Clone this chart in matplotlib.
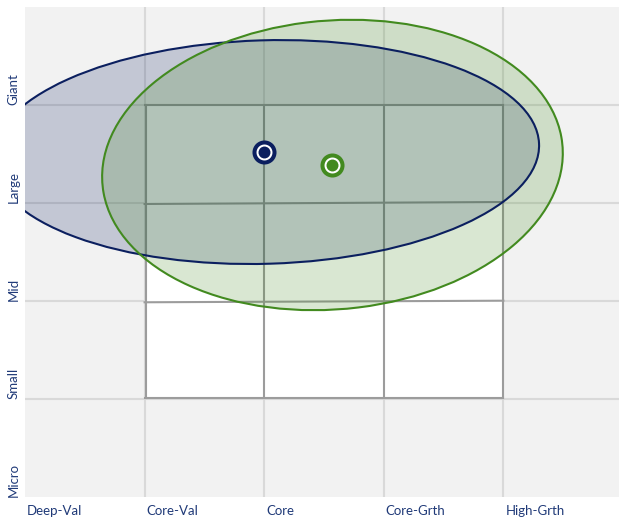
"""Ownership-zone style box: two holdings ellipses over a 5x5 style grid."""

import matplotlib

matplotlib.use("Agg")

import matplotlib.pyplot as plt
from matplotlib.patches import Ellipse, Rectangle

# style axis (x) and size axis (y) labels, one per grid column / row
STYLE_LABELS = ["Deep-Val", "Core-Val", "Core", "Core-Grth", "High-Grth"]
SIZE_LABELS = ["Micro", "Small", "Mid", "Large", "Giant"]

# ownership zones: centre (style, size), half-widths and tilt in data units
ZONE_NAMES = ["fund", "benchmark"]
ZONE_CX = [2.01, 2.571]
ZONE_CY = [3.52, 3.388]
ZONE_HALF_W = [2.29, 1.935]
ZONE_HALF_H = [1.14, 1.47]
ZONE_ANGLE = [2.2, 8.5]
# centroids
CENTROID_X = [2.0, 2.57]
CENTROID_Y = [3.52, 3.39]

# the drawn 3x3 style box is a little uneven: each line as (x0, y0, x1, y1)
BOX_H_LINES = [
    (1.0, 3.995, 4.0, 3.995),
    (1.0, 2.99, 4.0, 3.01),
    (1.0, 1.987, 4.0, 2.003),
    (1.0, 1.015, 4.0, 1.015),
]
BOX_V_LINES = [
    (1.01, 1.015, 1.01, 3.995),
    (2.0, 1.015, 2.0, 3.995),
    (3.0, 1.015, 3.0, 3.995),
    (4.0, 1.015, 4.0, 3.995),
]

NAVY = "#0b1f5f"
GREEN = "#428a1f"
LABEL = "#203a78"
ZONE_COLORS = [NAVY, GREEN]

fig = plt.figure(figsize=(6.19, 5.19), dpi=100)
ax = fig.add_axes([25 / 619, 22 / 519, 594 / 619, 490 / 519])
ax.set_facecolor("#f2f2f2")
ax.set_xlim(0, 4.967)
ax.set_ylim(0, 5)

for v in range(1, 5):
    ax.axvline(v, color="#d9d9d9", lw=1.5, zorder=1)
    ax.axhline(v, color="#d9d9d9", lw=1.5, zorder=1)

ax.add_patch(Rectangle((1.01, 1.015), 2.99, 2.98, facecolor="white",
                       edgecolor="none", zorder=2))
for x0, y0, x1, y1 in BOX_H_LINES + BOX_V_LINES:
    ax.plot([x0, x1], [y0, y1], color="#9c9c9c", lw=1.5,
            solid_capstyle="projecting", zorder=3)

for i, color in enumerate(ZONE_COLORS):
    ax.add_patch(Ellipse((ZONE_CX[i], ZONE_CY[i]), 2 * ZONE_HALF_W[i],
                         2 * ZONE_HALF_H[i], angle=ZONE_ANGLE[i],
                         facecolor=color, alpha=0.2, edgecolor="none",
                         zorder=4 + i))
    ax.add_patch(Ellipse((ZONE_CX[i], ZONE_CY[i]), 2 * ZONE_HALF_W[i],
                         2 * ZONE_HALF_H[i], angle=ZONE_ANGLE[i],
                         facecolor="none", edgecolor=color, lw=1.5,
                         zorder=6))

for i, color in enumerate(ZONE_COLORS):
    ax.plot(CENTROID_X[i], CENTROID_Y[i], marker="o", ms=14.4,
            mfc="white", mec=color, mew=2.9, zorder=8)
    ax.plot(CENTROID_X[i], CENTROID_Y[i], marker="o", ms=8.6,
            mfc=color, mec="none", zorder=9)

ax.set_xticks([])
ax.set_yticks([])
for s in ax.spines.values():
    s.set_visible(False)

font = dict(family=["Lato", "DejaVu Sans"], fontsize=9.5, color=LABEL)
for i, lab in enumerate(STYLE_LABELS):
    ax.annotate(lab, (i, 0), xycoords="data", xytext=(1.5, -6),
                textcoords="offset points", ha="left", va="top", **font)
for i, lab in enumerate(SIZE_LABELS):
    ax.annotate(lab, (0, i), xycoords="data", xytext=(-4, 0),
                textcoords="offset points", ha="right", va="bottom",
                rotation=90, **font)

fig.savefig("out.png", dpi=100)
